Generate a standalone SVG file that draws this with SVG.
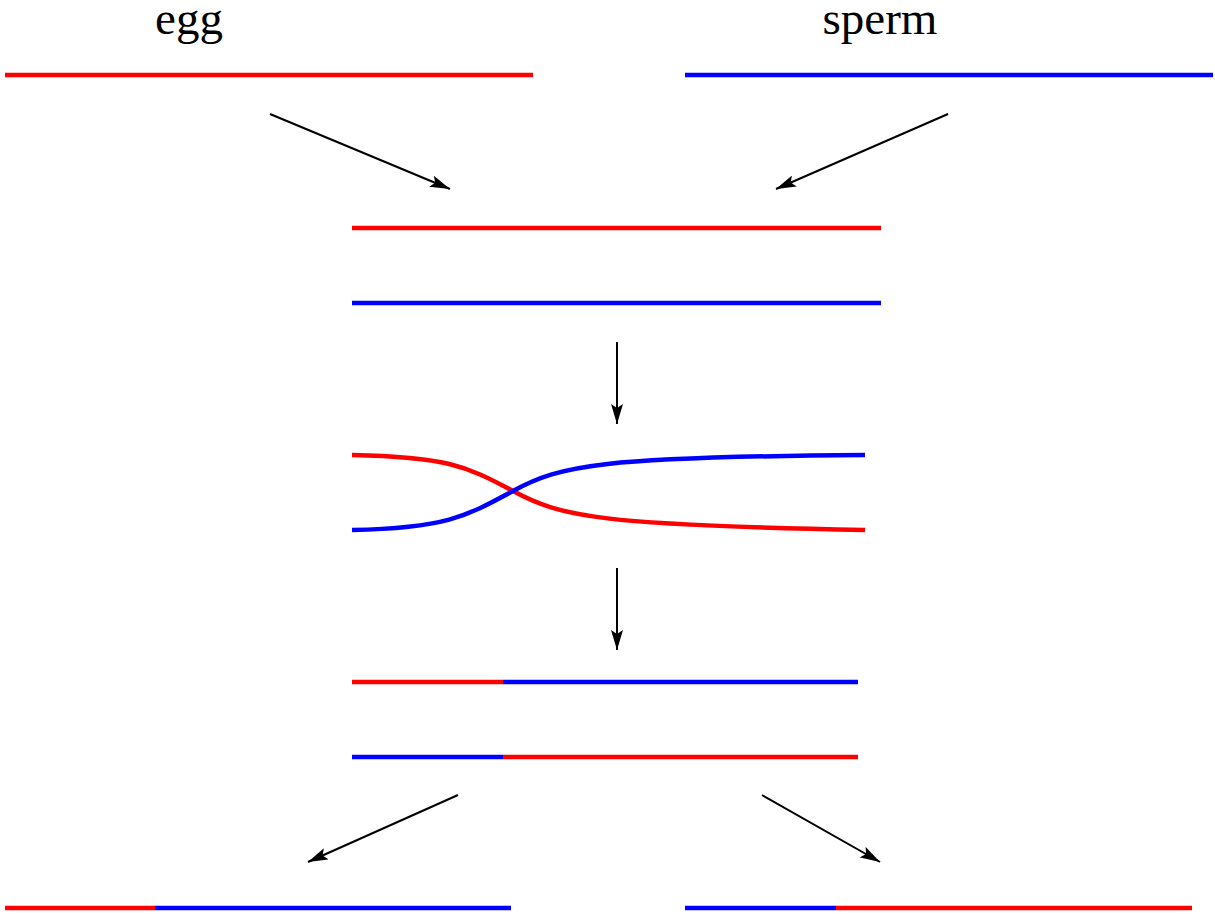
<svg xmlns="http://www.w3.org/2000/svg" width="1215" height="914" viewBox="0 0 1215 914">
<style>
.r{stroke:#ff0000;stroke-width:4.5;fill:none}
.b{stroke:#0000ff;stroke-width:4.5;fill:none}
.a{stroke:#000;stroke-width:2;fill:none;marker-end:url(#ah)}
</style>
<defs>
<marker id="ah" markerUnits="userSpaceOnUse" markerWidth="22" markerHeight="12" refX="20" refY="6" orient="auto" viewBox="0 0 22 12">
<path d="M0,0 L20,6 L0,12 L4,6 Z" fill="#000"/>
</marker>
</defs>
<rect width="1215" height="914" fill="#fff"/>
<g id="egg"><text x="189" y="34" font-family="'Liberation Serif', 'Times New Roman', serif" font-size="47" text-anchor="middle" fill="#000">egg</text><line class="r" x1="5" y1="75" x2="533" y2="75"/></g>
<g id="sperm"><text x="880" y="34" font-family="'Liberation Serif', 'Times New Roman', serif" font-size="47" text-anchor="middle" fill="#000">sperm</text><line class="b" x1="685" y1="75" x2="1213" y2="75"/></g>
<g id="pair"><line class="r" x1="352" y1="228" x2="881" y2="228"/><line class="b" x1="352" y1="303" x2="881" y2="303"/></g>
<g id="crossover">
<path class="r" d="M352,455 C445,457 465,465 513,491 S600,525 865,530"/>
<path class="b" d="M352,530 C445,528 465,517 513,491 S600,457 865,455"/>
</g>
<g id="recombined">
<line class="r" x1="352" y1="682" x2="503" y2="682"/><line class="b" x1="503" y1="682" x2="858" y2="682"/>
<line class="b" x1="352" y1="757" x2="503" y2="757"/><line class="r" x1="503" y1="757" x2="858" y2="757"/>
</g>
<g id="gamete1"><line class="r" x1="5" y1="908" x2="155" y2="908"/><line class="b" x1="155" y1="908" x2="511" y2="908"/></g>
<g id="gamete2"><line class="b" x1="685" y1="908" x2="836" y2="908"/><line class="r" x1="836" y1="908" x2="1192" y2="908"/></g>
<g id="connectors">
<line class="a" x1="270" y1="114" x2="450" y2="189"/>
<line class="a" x1="948" y1="114" x2="776" y2="189"/>
<line class="a" x1="617" y1="342" x2="617" y2="424"/>
<line class="a" x1="617" y1="568" x2="617" y2="650"/>
<line class="a" x1="458" y1="795" x2="308" y2="862"/>
<line class="a" x1="762" y1="795" x2="880" y2="862"/>
</g>
</svg>
